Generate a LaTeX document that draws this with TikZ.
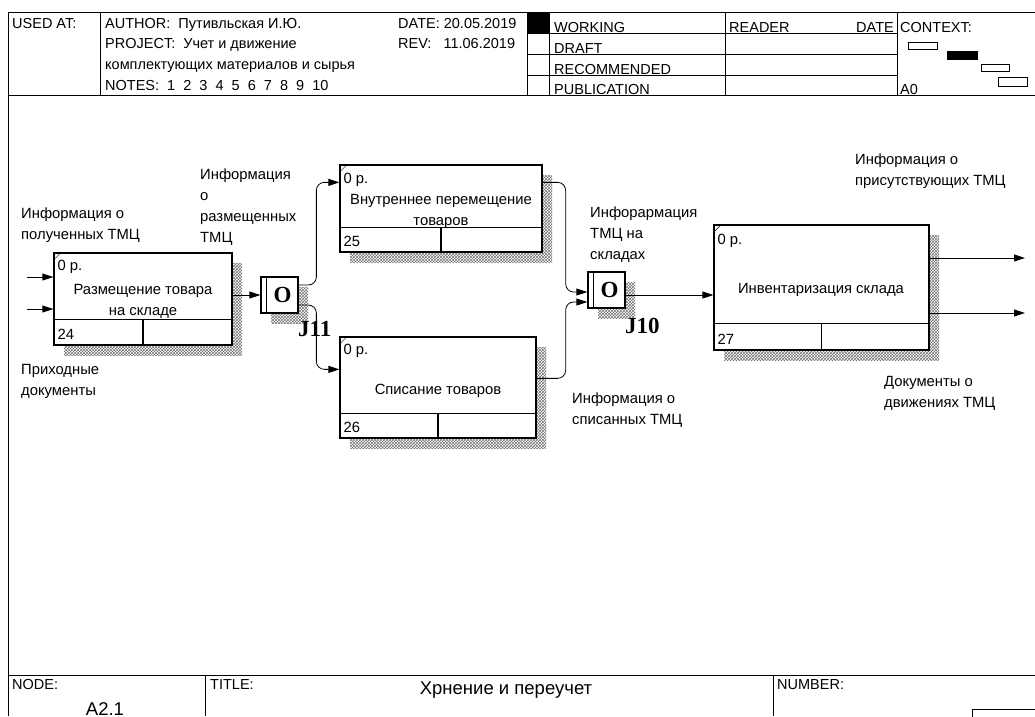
\documentclass[tikz,border=0pt]{standalone}
\usepackage{fontspec}
\setmainfont{Liberation Sans}
\newfontfamily\jfont{Liberation Serif}
\usepackage{tikz}
\usetikzlibrary{arrows.meta, positioning, calc, patterns, shadows}

\begin{document}
\begin{tikzpicture}[
    x=1pt, y=-1pt,
    func/.style={rectangle, draw, line width=1.3pt, fill=white, inner sep=0pt,
        general shadow={shadow xshift=10pt, shadow yshift=-10pt, pattern=crosshatch, pattern color=black!55}},
    junc/.style={rectangle, draw, line width=1.3pt, fill=white, inner sep=0pt,
        minimum width=37pt, minimum height=36pt, font=\jfont\bfseries\fontsize{23}{23}\selectfont,
        general shadow={shadow xshift=10pt, shadow yshift=-10pt, pattern=crosshatch, pattern color=black!55}},
    lbl/.style={anchor=base west, inner sep=0pt, align=left, font=\fontsize{14.8}{21}\selectfont},
    ttl/.style={anchor=base, inner sep=0pt, align=center, font=\fontsize{14.8}{21}\selectfont},
    hdr/.style={anchor=base west, inner sep=0pt, font=\fontsize{14.5}{20}\selectfont},
    big/.style={anchor=base, inner sep=0pt, font=\fontsize{18.5}{20}\selectfont},
    jlbl/.style={anchor=base west, inner sep=0pt, font=\jfont\bfseries\fontsize{23}{23}\selectfont},
    arr/.style={-{Triangle[length=11pt, width=7pt]}, line width=0.8pt, rounded corners=8pt},
    frame/.style={line width=0.8pt},
]
\clip (0,0) rectangle (1035,716);

% === Header ===
\draw[frame] (8,12) -- (1035,12);
\draw[frame] (8,95) -- (1035,95);
\draw[frame] (8,12) -- (8,716);
\draw[frame] (100,12) -- (100,95);
\fill (527,12) rectangle (549,33);
\draw[frame] (527,12) -- (527,95);
\draw[frame] (549,12) -- (549,95);
\draw[frame] (725,12) -- (725,95);
\draw[frame] (897,12) -- (897,95);
\draw[frame] (527,33) -- (897,33);
\draw[frame] (527,54) -- (897,54);
\draw[frame] (527,75) -- (897,75);

\node[hdr] (usedat) at (12,28) {USED AT:};
\node[hdr] (author) at (105,28) {AUTHOR:\ \ Путивльская И.Ю.};
\node[hdr] (project) at (105,48) {PROJECT:\ \ Учет и движение};
\node[hdr] (project2) at (105,69) {комплектующих материалов и сырья};
\node[hdr] (notes) at (105,90) {NOTES:\ \ 1\ \ 2\ \ 3\ \ 4\ \ 5\ \ 6\ \ 7\ \ 8\ \ 9\ \ 10};
\node[hdr] (date) at (398,28) {DATE: 20.05.2019};
\node[hdr] (rev) at (398,48) {REV:\ \ \ 11.06.2019};
\node[hdr] (working) at (554,32) {WORKING};
\node[hdr] (draft) at (554,53) {DRAFT};
\node[hdr] (recommended) at (554,74) {RECOMMENDED};
\node[hdr] (publication) at (554,94) {PUBLICATION};
\node[hdr] (reader) at (729,32) {READER};
\node[hdr, anchor=base east] (rdate) at (894,32) {DATE};
\node[hdr] (context) at (900,32) {CONTEXT:};
\node[hdr] (ctxnode) at (900,94) {A0};

% context boxes
\draw[frame] (908,42) rectangle (937,49);
\fill (947,51) rectangle (978,60);
\draw[frame] (981,64) rectangle (1009,71);
\draw[frame] (998,77) rectangle (1027,86);

% === Functions ===
\node[func, minimum width=178pt, minimum height=92pt] (b24) at (143,299) {};
\node[func, minimum width=202pt, minimum height=87pt] (b25) at (441,208.5) {};
\node[func, minimum width=196pt, minimum height=101pt] (b26) at (438,387.5) {};
\node[func, minimum width=215pt, minimum height=125pt] (b27) at (821.5,287.5) {};

\draw[line width=1.3pt] ($(b24.south west)+(0,-26)$) -- ($(b24.south east)+(0,-26)$);
\draw[line width=1.3pt] ($(b24.south)+(0,-26)$) -- (b24.south);
\draw ($(b24.north west)+(0,8)$) -- ($(b24.north west)+(8,0)$);
\draw[line width=1.3pt] ($(b25.south west)+(0,-25)$) -- ($(b25.south east)+(0,-25)$);
\draw[line width=1.3pt] ($(b25.south)+(0,-25)$) -- (b25.south);
\draw ($(b25.north west)+(0,8)$) -- ($(b25.north west)+(8,0)$);
\draw[line width=1.3pt] ($(b26.south west)+(0,-25)$) -- ($(b26.south east)+(0,-25)$);
\draw[line width=1.3pt] ($(b26.south)+(0,-25)$) -- (b26.south);
\draw ($(b26.north west)+(0,8)$) -- ($(b26.north west)+(8,0)$);
\draw[line width=1.3pt] ($(b27.south west)+(0,-27)$) -- ($(b27.south east)+(0,-27)$);
\draw[line width=1.3pt] ($(b27.south)+(0,-27)$) -- (b27.south);
\draw ($(b27.north west)+(0,8)$) -- ($(b27.north west)+(8,0)$);

\node[lbl] (c24) at ($(b24.north west)+(4,18)$) {0 р.};
\node[lbl] (c25) at ($(b25.north west)+(4,19)$) {0 р.};
\node[lbl] (c26) at ($(b26.north west)+(4,18)$) {0 р.};
\node[lbl] (c27) at ($(b27.north west)+(4,20)$) {0 р.};

% multi-line texts sit on the baseline of their last line
\node[ttl] (t24) at (143,315) {Размещение товара\\на складе};
\node[ttl] (t25) at (441,225) {Внутреннее перемещение\\товаров};
\node[ttl] (t26) at (438,394) {Списание товаров};
\node[ttl] (t27) at (821,293) {Инвентаризация склада};

\node[lbl] (n24) at ($(b24.south west)+(4,-6)$) {24};
\node[lbl] (n25) at ($(b25.south west)+(4,-6)$) {25};
\node[lbl] (n26) at ($(b26.south west)+(4,-6)$) {26};
\node[lbl] (n27) at ($(b27.south west)+(4,-6)$) {27};

% === Junctions ===
\node[junc] (j11) at (279.5,295) {\hspace*{6pt}O};
\node[junc] (j10) at (606.5,290) {\hspace*{6pt}O};
\draw[line width=1.3pt] ($(j11.north west)+(6,0)$) -- ($(j11.south west)+(6,0)$);
\draw[line width=1.3pt] ($(j10.north west)+(6,0)$) -- ($(j10.south west)+(6,0)$);
\node[jlbl] (j11lbl) at (298,336) {J11};
\node[jlbl] (j10lbl) at (625,333) {J10};

% === Arrows ===
\coordinate (src1) at (27,277);
\coordinate (src2) at (27,309);
\coordinate (dst1) at (1025,258);
\coordinate (dst2) at (1025,313);
\draw[arr] (src1) -- (src1 -| b24.west);
\draw[arr] (src2) -- (src2 -| b24.west);
\draw[arr] (b24.east |- j11) -- (j11.west);
\draw[arr] ($(j11.east)+(0,-10)$) -| ($(b25.north west)+(-23,18)$) -- ($(b25.north west)+(0,18)$);
\draw[arr] ($(j11.east)+(0,10)$) -| ($(b26.north west)+(-23,33)$) -- ($(b26.north west)+(0,33)$);
\draw[arr] ($(b25.north east)+(0,18)$) -- ++(23,0) |- ($(j10.west)+(0,2)$);
\draw[arr] ($(b26.north east)+(0,42)$) -- ++(29,0) |- ($(j10.west)+(0,12)$);
\draw[arr] ($(j10.east)+(0,5)$) -- ($(b27.west)+(0,7.5)$);
\draw[arr] (dst1 -| b27.east) -- (dst1);
\draw[arr] (dst2 -| b27.east) -- (dst2);

% === Labels ===
\node[lbl] (lin1) at (21,239) {Информация о\\полученных ТМЦ};
\node[lbl] (lctl) at (21,395) {Приходные\\документы};
\node[lbl] (lj11) at (200,242) {Информация\\о\\размещенных\\ТМЦ};
\node[lbl] (lj10) at (590,259) {Инфорармация\\ТМЦ на\\складах};
\node[lbl] (l26) at (572,424) {Информация о\\списанных ТМЦ};
\node[lbl] (lout1) at (855,185) {Информация о\\присутствующих ТМЦ};
\node[lbl] (lout2) at (884,407) {Документы о\\движениях ТМЦ};

% === Footer ===
\draw[frame] (8,675) -- (1035,675);
\draw[frame] (205,675) -- (205,716);
\draw[frame] (773,675) -- (773,716);
\draw[frame] (972,709) rectangle (1045,725);
\node[hdr] (nodehdr) at (12,689) {NODE:};
\node[big] (nodeno) at (105,715) {A2.1};
\node[hdr] (titlehdr) at (210,689) {TITLE:};
\node[big] (title) at (506,694) {Хрнение и переучет};
\node[hdr] (numhdr) at (777,689) {NUMBER:};

\end{tikzpicture}
\end{document}
